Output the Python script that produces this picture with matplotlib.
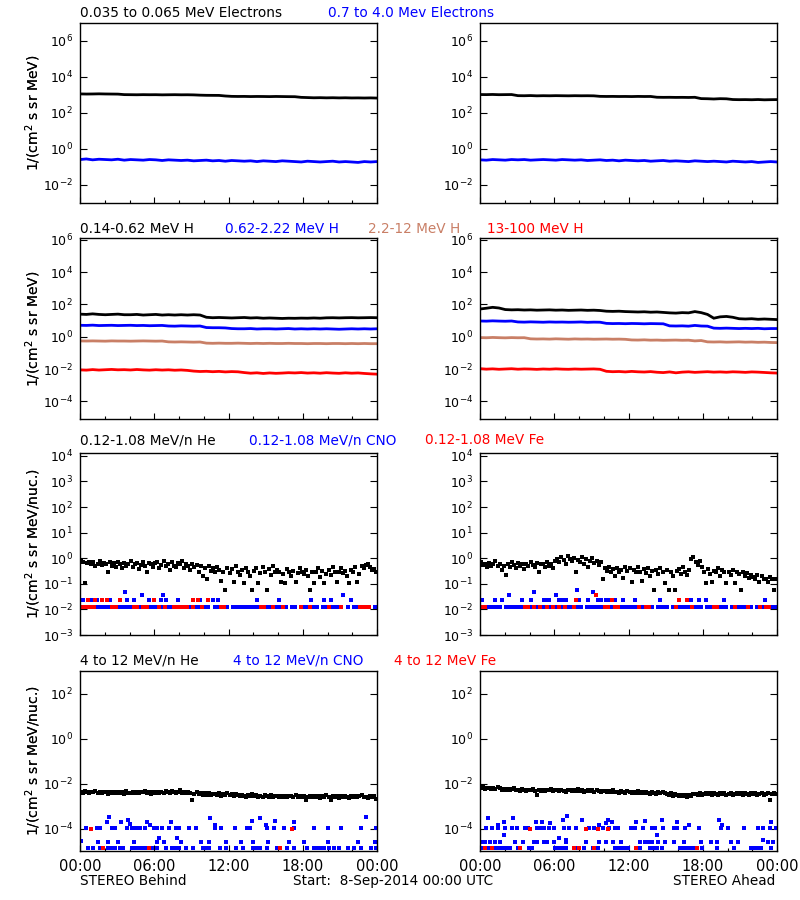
import numpy as np
import matplotlib
matplotlib.use('Agg')
import matplotlib.pyplot as plt
from matplotlib.ticker import FixedLocator, NullLocator

# ---------------- DATA (8-Sep-2014) ----------------
# Row 1: electrons, 30-min samples (48)
e_lo_B = [1150, 1130, 1140, 1160, 1140, 1130, 1120, 1050, 1040, 1030, 1045, 1035,
          1040, 1020, 1030, 1040, 1025, 1030, 1015, 980, 960, 955, 950, 880,
          840, 830, 835, 820, 830, 825, 815, 830, 820, 810, 805, 740,
          720, 700, 710, 695, 705, 690, 700, 685, 690, 680, 690, 675]
e_hi_B = [0.26, 0.28, 0.25, 0.27, 0.26, 0.25, 0.27, 0.24, 0.26, 0.25, 0.24, 0.26,
          0.25, 0.23, 0.25, 0.24, 0.23, 0.24, 0.22, 0.23, 0.24, 0.22, 0.23, 0.21,
          0.23, 0.22, 0.21, 0.22, 0.20, 0.22, 0.21, 0.20, 0.22, 0.21, 0.20, 0.19,
          0.21, 0.20, 0.19, 0.20, 0.21, 0.19, 0.20, 0.19, 0.18, 0.20, 0.19, 0.20]
e_lo_A = [1060, 1050, 1070, 1040, 1050, 1060, 920, 910, 930, 900, 915, 905,
          920, 910, 900, 915, 905, 910, 900, 840, 830, 835, 825, 830,
          820, 835, 825, 830, 750, 740, 745, 735, 740, 730, 745, 630,
          620, 600, 625, 615, 560, 550, 555, 545, 560, 540, 550, 555]
e_hi_A = [0.25, 0.24, 0.26, 0.25, 0.24, 0.26, 0.25, 0.26, 0.24, 0.25, 0.26, 0.25,
          0.24, 0.26, 0.25, 0.24, 0.25, 0.23, 0.24, 0.25, 0.23, 0.24, 0.22, 0.24,
          0.23, 0.22, 0.23, 0.21, 0.22, 0.23, 0.21, 0.22, 0.21, 0.20, 0.22, 0.21,
          0.20, 0.21, 0.20, 0.19, 0.21, 0.20, 0.19, 0.20, 0.18, 0.19, 0.20, 0.19]

# Row 2: protons, 30-min samples (48)
h1_B = [25, 24, 26, 24, 23, 24, 25, 23, 23, 24, 22, 23,
        24, 22, 23, 22, 23, 22, 23, 22, 16, 15, 15.5, 15,
        14.5, 15, 15.5, 14.5, 15, 14, 14.5, 14, 13.5, 14, 13.8, 14.2,
        14, 14.5, 14, 14.8, 15, 14.6, 15, 15.2, 14.8, 15, 15.3, 15]
h2_B = [5.1, 5.0, 5.2, 4.9, 5.0, 5.1, 4.9, 5.0, 5.1, 4.9, 5.0, 4.8,
        4.9, 5.0, 4.6, 4.5, 4.7, 4.6, 4.5, 4.6, 3.7, 3.6, 3.6, 3.5,
        3.2, 3.1, 3.1, 3.2, 3.0, 3.1, 3.1, 3.0, 3.1, 3.2, 3.0, 3.1,
        3.0, 3.1, 3.0, 3.1, 3.0, 2.9, 3.0, 3.1, 3.0, 3.1, 3.0, 3.1]
h3_B = [0.55, 0.54, 0.55, 0.54, 0.53, 0.55, 0.54, 0.54, 0.53, 0.54, 0.55, 0.54,
        0.53, 0.54, 0.48, 0.47, 0.48, 0.47, 0.46, 0.47, 0.40, 0.39, 0.40, 0.39,
        0.39, 0.40, 0.39, 0.38, 0.39, 0.38, 0.39, 0.38, 0.38, 0.39, 0.38, 0.38,
        0.37, 0.38, 0.38, 0.37, 0.38, 0.38, 0.37, 0.38, 0.37, 0.38, 0.37, 0.37]
h4_B = [0.0088, 0.0085, 0.0092, 0.0086, 0.0090, 0.0094, 0.0089, 0.0091, 0.0087, 0.0093, 0.0088, 0.0085,
        0.0090, 0.0086, 0.0089, 0.0084, 0.0087, 0.0082, 0.0074, 0.0070, 0.0072, 0.0068, 0.0071, 0.0066,
        0.0069, 0.0067, 0.0060, 0.0055, 0.0058, 0.0053, 0.0057, 0.0054, 0.0056, 0.0059, 0.0057, 0.0060,
        0.0056, 0.0058, 0.0055, 0.0059, 0.0056, 0.0054, 0.0058, 0.0055, 0.0057, 0.0053, 0.0050, 0.0048]
h1_A = [52, 58, 66, 60, 48, 46, 47, 45, 46, 44, 45, 46,
        44, 45, 43, 44, 45, 43, 44, 42, 38, 37, 38, 36,
        35, 34, 35, 33, 34, 32, 30, 29, 31, 30, 36, 31,
        24, 14, 17, 18, 16, 13, 12.5, 13, 12, 12.5, 12, 11.5]
h2_A = [9.4, 9.2, 9.6, 9.3, 9.1, 9.4, 8.2, 8.0, 8.3, 8.1, 7.9, 8.2,
        8.0, 8.1, 7.9, 8.0, 8.2, 7.8, 8.0, 7.9, 6.7, 6.5, 6.6, 6.4,
        6.6, 6.5, 6.3, 6.5, 6.4, 6.3, 4.7, 4.6, 4.7, 4.5, 5.0, 4.6,
        4.5, 3.4, 3.3, 3.4, 3.3, 3.2, 3.3, 3.2, 3.3, 3.1, 3.2, 3.2]
h3_A = [0.88, 0.86, 0.90, 0.87, 0.85, 0.88, 0.86, 0.87, 0.74, 0.72, 0.73, 0.71,
        0.74, 0.72, 0.70, 0.73, 0.71, 0.72, 0.70, 0.71, 0.72, 0.70, 0.71, 0.69,
        0.63, 0.62, 0.64, 0.61, 0.62, 0.60, 0.61, 0.62, 0.60, 0.61, 0.55, 0.58,
        0.48, 0.47, 0.48, 0.46, 0.47, 0.48, 0.46, 0.47, 0.45, 0.46, 0.44, 0.43]
h4_A = [0.0105, 0.0098, 0.0102, 0.0096, 0.0100, 0.0104, 0.0097, 0.0101, 0.0099, 0.0095, 0.0100, 0.0097,
        0.0102, 0.0098, 0.0096, 0.0100, 0.0097, 0.0099, 0.0101, 0.0096, 0.0072, 0.0068, 0.0070, 0.0066,
        0.0071, 0.0067, 0.0065, 0.0069, 0.0063, 0.0060, 0.0066, 0.0058, 0.0064, 0.0067, 0.0062, 0.0065,
        0.0068, 0.0064, 0.0066, 0.0063, 0.0067, 0.0065, 0.0062, 0.0066, 0.0064, 0.0061, 0.0058, 0.0056]

# Row 3: 0.12-1.08 MeV/n He, 10-min samples (144)
he3_B = [0.80, 0.72, 0.11, 0.65, 0.74, 0.58, 0.70, 0.48, 0.62, 0.75, 0.55, 0.66,
         0.60, 0.30, 0.72, 0.52, 0.64, 0.45, 0.70, 0.58, 0.41, 0.66, 0.50, 0.62,
         0.75, 0.47, 0.60, 0.68, 0.38, 0.55, 0.72, 0.50, 0.30, 0.64, 0.58, 0.45,
         0.66, 0.74, 0.41, 0.56, 0.80, 0.48, 0.62, 0.36, 0.70, 0.52, 0.45, 0.66,
         0.58, 0.75, 0.40, 0.60, 0.50, 0.35, 0.62, 0.45, 0.55, 0.30, 0.48, 0.20,
         0.40, 0.15, 0.50, 0.33, 0.42, 0.28, 0.45, 0.36, 0.13, 0.30, 0.055, 0.40,
         0.26, 0.38, 0.12, 0.48, 0.30, 0.22, 0.35, 0.11, 0.42, 0.28, 0.20, 0.055,
         0.33, 0.40, 0.11, 0.26, 0.45, 0.30, 0.055, 0.38, 0.22, 0.50, 0.28, 0.35,
         0.30, 0.12, 0.25, 0.11, 0.38, 0.28, 0.20, 0.33, 0.12, 0.26, 0.40, 0.30,
         0.25, 0.35, 0.20, 0.055, 0.30, 0.11, 0.28, 0.40, 0.18, 0.33, 0.11, 0.25,
         0.35, 0.22, 0.45, 0.28, 0.12, 0.30, 0.40, 0.26, 0.33, 0.20, 0.11, 0.36,
         0.30, 0.45, 0.12, 0.25, 0.50, 0.40, 0.55, 0.60, 0.45, 0.35, 0.38, 0.28]
he3_A = [0.70, 0.55, 0.62, 0.45, 0.68, 0.50, 0.60, 0.75, 0.48, 0.58, 0.36, 0.52,
         0.23, 0.62, 0.45, 0.70, 0.55, 0.40, 0.66, 0.48, 0.58, 0.38, 0.62, 0.50,
         0.72, 0.55, 0.44, 0.66, 0.30, 0.58, 0.62, 0.46, 0.70, 0.52, 0.60, 0.40,
         0.80, 0.95, 0.70, 1.10, 0.85, 0.62, 1.20, 0.90, 0.75, 1.00, 0.30, 0.85,
         0.70, 1.10, 0.60, 0.90, 0.45, 0.75, 1.00, 0.65, 0.80, 0.55, 0.70, 0.15,
         0.40, 0.32, 0.45, 0.28, 0.38, 0.20, 0.42, 0.30, 0.36, 0.17, 0.44, 0.33,
         0.40, 0.12, 0.35, 0.28, 0.45, 0.30, 0.13, 0.38, 0.26, 0.42, 0.20, 0.33,
         0.055, 0.36, 0.25, 0.40, 0.30, 0.11, 0.35, 0.055, 0.28, 0.20, 0.055, 0.33,
         0.38, 0.25, 0.45, 0.30, 0.22, 0.34, 0.90, 1.10, 0.70, 0.55, 0.80, 0.45,
         0.30, 0.11, 0.38, 0.25, 0.12, 0.33, 0.28, 0.40, 0.20, 0.35, 0.30, 0.11,
         0.30, 0.22, 0.36, 0.11, 0.28, 0.25, 0.055, 0.30, 0.20, 0.26, 0.17, 0.22,
         0.18, 0.15, 0.22, 0.12, 0.20, 0.16, 0.16, 0.12, 0.18, 0.15, 0.055, 0.16]

# Row 3 CNO / Fe one-count floor, 15-min bins (96); 0 = no point
cno3_B_floor = [0.012, 0.012, 0.012, 0.012, 0.012, 0.012, 0.012, 0.012, 0.012, 0.012, 0.012, 0.012,
                0.012, 0.012, 0.012, 0.012, 0.012, 0.012, 0.012, 0.012, 0.012, 0.012, 0.012, 0.012,
                0.012, 0.012, 0.012, 0.012, 0.012, 0.012, 0.012, 0.012, 0.012, 0.012, 0.012, 0.012,
                0.012, 0.012, 0.012, 0.012, 0.012, 0.012, 0, 0.012, 0.012, 0.012, 0.012, 0.012,
                0, 0.012, 0.012, 0.012, 0.012, 0.012, 0.012, 0.012, 0.012, 0.012, 0.012, 0.012,
                0.012, 0.012, 0.012, 0.012, 0.012, 0.012, 0.012, 0, 0.012, 0.012, 0, 0.012,
                0.012, 0.012, 0.012, 0.012, 0.012, 0, 0.012, 0.012, 0.012, 0.012, 0.012, 0.012,
                0.012, 0, 0.012, 0, 0.012, 0.012, 0.012, 0.012, 0.012, 0.012, 0, 0.012]
fe3_B_floor = [0.012, 0.012, 0.012, 0.012, 0.012, 0, 0, 0, 0, 0, 0.012, 0.012,
               0, 0, 0, 0, 0, 0.012, 0.012, 0, 0.012, 0.012, 0, 0,
               0, 0.012, 0, 0.012, 0, 0, 0.012, 0.012, 0.012, 0.012, 0.012, 0,
               0.012, 0, 0, 0.012, 0, 0, 0, 0, 0, 0.012, 0.012, 0,
               0, 0, 0, 0, 0, 0, 0, 0, 0, 0, 0.012, 0.012,
               0, 0, 0.012, 0, 0, 0.012, 0, 0, 0, 0, 0, 0.012,
               0, 0, 0.012, 0, 0, 0, 0, 0, 0.012, 0, 0, 0,
               0.012, 0, 0, 0, 0, 0, 0.012, 0.012, 0.012, 0.012, 0, 0]
cno3_A_floor = [0.012, 0.012, 0.012, 0.012, 0.012, 0.012, 0.012, 0, 0.012, 0.012, 0.012, 0.012,
                0.012, 0.012, 0.012, 0.012, 0.012, 0.012, 0.012, 0.012, 0.012, 0.012, 0.012, 0.012,
                0.012, 0.012, 0.012, 0.012, 0.012, 0.012, 0.012, 0.012, 0.012, 0, 0.012, 0.012,
                0.012, 0.012, 0.012, 0.012, 0.012, 0.012, 0.012, 0.012, 0.012, 0.012, 0.012, 0.012,
                0.012, 0.012, 0.012, 0.012, 0.012, 0.012, 0.012, 0.012, 0, 0.012, 0.012, 0.012,
                0.012, 0, 0.012, 0.012, 0.012, 0.012, 0.012, 0.012, 0.012, 0.012, 0.012, 0.012,
                0, 0.012, 0.012, 0.012, 0.012, 0.012, 0.012, 0.012, 0, 0.012, 0.012, 0.012,
                0.012, 0.012, 0.012, 0.012, 0, 0.012, 0.012, 0.012, 0.012, 0.012, 0.012, 0.012]
fe3_A_floor = [0.012, 0.012, 0, 0, 0, 0, 0, 0, 0, 0, 0, 0,
               0, 0, 0.012, 0.012, 0, 0.012, 0, 0.012, 0, 0.012, 0, 0.012,
               0, 0.012, 0, 0.012, 0, 0, 0.012, 0, 0, 0, 0, 0,
               0, 0, 0, 0, 0.012, 0.012, 0, 0.012, 0.012, 0, 0, 0,
               0, 0, 0, 0.012, 0, 0.012, 0.012, 0, 0, 0, 0, 0,
               0, 0, 0, 0.012, 0, 0, 0, 0, 0.012, 0, 0, 0,
               0, 0, 0, 0.012, 0.012, 0, 0, 0, 0, 0, 0.012, 0,
               0, 0, 0.012, 0, 0, 0, 0.012, 0, 0.012, 0.012, 0, 0]

# Row 3 CNO / Fe points above the floor: (hour, value)
cno3_B_up = [(0.27, 0.024), (0.95, 0.024), (1.36, 0.024), (2.45, 0.024), (3.27, 0.024),
             (3.62, 0.05), (3.81, 0.024), (4.36, 0.024), (4.99, 0.035), (5.59, 0.024),
             (6.54, 0.024), (6.68, 0.035), (6.95, 0.024), (7.90, 0.024), (9.67, 0.024),
             (10.35, 0.024), (10.76, 0.024), (11.17, 0.024), (14.30, 0.024), (16.08, 0.024),
             (18.66, 0.024), (19.75, 0.024), (20.30, 0.024), (21.25, 0.035), (21.93, 0.024)]
fe3_B_up = [(0.68, 0.024), (1.23, 0.024), (1.77, 0.024), (2.18, 0.024), (3.27, 0.024),
            (5.99, 0.024), (9.13, 0.024), (9.54, 0.024), (10.35, 0.024)]
cno3_A_up = [(0.14, 0.024), (1.23, 0.024), (1.77, 0.024), (2.32, 0.035), (3.41, 0.024),
             (4.09, 0.024), (4.36, 0.05), (5.18, 0.024), (5.45, 0.024), (5.59, 0.024),
             (6.13, 0.035), (6.40, 0.024), (6.68, 0.024), (6.95, 0.024), (7.85, 0.06),
             (8.04, 0.024), (8.72, 0.024), (9.13, 0.05), (9.54, 0.024), (9.81, 0.024),
             (10.22, 0.024), (10.49, 0.024), (10.90, 0.024), (11.58, 0.024), (12.53, 0.024),
             (14.58, 0.024), (16.76, 0.024), (17.03, 0.024), (17.71, 0.024), (18.26, 0.024),
             (19.75, 0.024), (23.02, 0.024)]
fe3_A_up = [(7.77, 0.024), (9.40, 0.035), (10.63, 0.024), (16.08, 0.024), (16.76, 0.024)]

# Row 4: 4-12 MeV/n He, 10-min samples (144)
he4_B = [.0042, .0038, .0045, .0040, .0036, .0044, .0040, .0046, .0037, .0042, .0039, .0043,
         .0041, .0035, .0044, .0039, .0042, .0037, .0043, .0038, .0040, .0035, .0045, .0039,
         .0036, .0042, .0039, .0044, .0037, .0041, .0040, .0046, .0038, .0042, .0035, .0043,
         .0039, .0044, .0036, .0041, .0038, .0045, .0042, .0037, .0047, .0040, .0036, .0043,
         .0050, .0039, .0044, .0036, .0041, .0038, .0018, .0035, .0040, .0033, .0038, .0031,
         .0036, .0032, .0039, .0030, .0035, .0033, .0031, .0037, .0029, .0034, .0032, .0036,
         .0030, .0034, .0028, .0033, .0031, .0027, .0032, .0029, .0026, .0031, .0028, .0033,
         .0027, .0030, .0025, .0029, .0026, .0031, .0028, .0025, .0030, .0026, .0029, .0027,
         .0026, .0029, .0024, .0028, .0025, .0027, .0028, .0026, .0030, .0024, .0027, .0025,
         .0029, .0018, .0026, .0028, .0024, .0027, .0025, .0029, .0023, .0027, .0026, .0030,
         .0024, .0018, .0027, .0025, .0028, .0023, .0027, .0024, .0029, .0026, .0023, .0028,
         .0025, .0028, .0024, .0027, .0030, .0025, .0026, .0023, .0028, .0025, .0027, .0020]
he4_A = [.0062, .0070, .0058, .0065, .0060, .0055, .0063, .0057, .0068, .0060, .0054, .0059,
         .0052, .0058, .0049, .0055, .0060, .0050, .0054, .0048, .0056, .0051, .0046, .0053,
         .0050, .0055, .0047, .0030, .0052, .0048, .0051, .0045, .0053, .0049, .0056, .0047,
         .0050, .0054, .0046, .0052, .0048, .0044, .0049, .0053, .0045, .0051, .0047, .0055,
         .0046, .0050, .0043, .0048, .0052, .0045, .0049, .0044, .0051, .0047, .0042, .0048,
         .0045, .0041, .0047, .0043, .0049, .0040, .0044, .0039, .0046, .0042, .0038, .0045,
         .0041, .0037, .0043, .0039, .0045, .0038, .0040, .0036, .0042, .0038, .0035, .0041,
         .0039, .0035, .0041, .0037, .0043, .0036, .0034, .0030, .0036, .0029, .0033, .0031,
         .0028, .0032, .0027, .0030, .0026, .0031, .0029, .0033, .0035, .0031, .0036, .0032,
         .0034, .0038, .0033, .0036, .0031, .0037, .0035, .0031, .0038, .0033, .0036, .0030,
         .0034, .0037, .0032, .0035, .0039, .0033, .0036, .0032, .0038, .0034, .0031, .0037,
         .0033, .0036, .0031, .0035, .0038, .0032, .0034, .0037, .0018, .0033, .0036, .0035]

# Row 4 CNO / Fe points: (hour, value)
cno4_B = [(0.52, 1.1e-4), (1.34, 1.1e-4), (1.61, 1.1e-4), (2.15, 2.0e-4), (2.34, 3.3e-4),
          (2.56, 1.1e-4), (2.83, 1.1e-4), (3.32, 2.0e-4), (3.79, 1.1e-4), (3.87, 2.3e-4),
          (4.06, 1.6e-4), (4.20, 1.1e-4), (4.52, 1.1e-4), (4.88, 1.1e-4), (5.29, 1.1e-4),
          (5.42, 2.0e-4), (5.64, 1.5e-4), (5.97, 1.1e-4), (6.24, 1.1e-4), (6.65, 1.1e-4),
          (7.19, 1.1e-4), (7.33, 2.0e-4), (7.74, 1.1e-4), (8.01, 1.1e-4), (8.83, 1.1e-4),
          (9.37, 1.1e-4), (10.52, 3.0e-4), (10.87, 1.1e-4), (10.93, 1.5e-4), (11.42, 1.1e-4),
          (12.51, 1.1e-4), (13.46, 1.1e-4), (13.73, 1.1e-4), (13.87, 2.2e-4), (14.55, 3.0e-4),
          (15.04, 1.5e-4), (15.10, 1.1e-4), (15.64, 1.1e-4), (15.78, 2.2e-4), (16.46, 1.1e-4),
          (17.28, 1.1e-4), (17.33, 2.0e-4), (18.91, 1.1e-4), (20.00, 1.1e-4), (21.09, 1.1e-4),
          (22.72, 1.1e-4), (23.08, 3.3e-4), (23.95, 1.1e-4),
          (0.05, 2.8e-5), (1.47, 2.6e-5), (2.23, 2.6e-5), (3.11, 2.6e-5), (4.33, 2.6e-5),
          (6.24, 2.6e-5), (6.38, 3.9e-5), (6.78, 2.6e-5), (7.87, 3.9e-5), (8.15, 2.6e-5),
          (9.78, 2.6e-5), (10.46, 2.6e-5), (11.83, 2.6e-5), (13.05, 2.6e-5), (14.00, 2.6e-5),
          (15.23, 2.6e-5), (16.87, 2.6e-5), (18.09, 2.6e-5), (20.00, 2.6e-5), (22.45, 2.6e-5),
          (23.81, 2.6e-5),
          (0.65, 1.3e-5), (1.06, 1.3e-5), (1.61, 1.3e-5), (2.29, 1.3e-5), (2.56, 1.3e-5),
          (2.83, 1.3e-5), (3.24, 1.3e-5), (3.51, 1.3e-5), (4.20, 1.3e-5), (4.47, 1.3e-5),
          (4.74, 1.3e-5), (5.01, 1.3e-5), (5.29, 1.3e-5), (5.83, 1.3e-5), (6.24, 1.3e-5),
          (6.92, 1.3e-5), (7.47, 1.3e-5), (7.74, 1.3e-5), (8.01, 1.3e-5), (8.56, 1.3e-5),
          (9.10, 1.3e-5), (9.92, 1.3e-5), (10.19, 1.3e-5), (10.46, 1.3e-5), (11.28, 1.3e-5),
          (11.83, 1.3e-5), (12.64, 1.3e-5), (13.19, 1.3e-5), (14.00, 1.3e-5), (14.28, 1.3e-5),
          (14.55, 1.3e-5), (15.10, 1.3e-5), (15.91, 1.3e-5), (16.73, 1.3e-5), (17.28, 1.3e-5),
          (18.37, 1.3e-5), (18.91, 1.3e-5), (19.18, 1.3e-5), (19.46, 1.3e-5), (19.73, 1.3e-5),
          (20.14, 1.3e-5), (20.54, 1.3e-5), (20.95, 1.3e-5), (21.63, 1.3e-5), (22.18, 1.3e-5),
          (22.72, 1.3e-5), (23.54, 1.3e-5), (23.95, 1.3e-5)]
fe4_B = [(0.87, 1.0e-4), (17.14, 1.0e-4), (1.88, 1.3e-5), (5.56, 1.3e-5), (16.19, 1.3e-5)]
cno4_A = [(0.52, 1.1e-4), (0.93, 1.1e-4), (1.47, 1.1e-4), (2.02, 1.1e-4), (2.56, 1.1e-4),
          (2.97, 1.1e-4), (3.65, 1.1e-4), (3.87, 1.1e-4), (4.60, 1.1e-4), (4.88, 1.1e-4),
          (5.15, 1.1e-4), (5.56, 1.1e-4), (5.97, 1.1e-4), (6.78, 1.1e-4), (7.19, 1.1e-4),
          (7.74, 1.1e-4), (8.83, 1.1e-4), (9.24, 1.1e-4), (9.92, 1.1e-4), (10.46, 1.1e-4),
          (10.87, 1.1e-4), (11.14, 1.1e-4), (12.23, 1.1e-4), (12.51, 1.1e-4), (13.19, 1.1e-4),
          (13.87, 1.1e-4), (14.14, 1.1e-4), (14.82, 1.1e-4), (15.64, 1.1e-4), (15.91, 1.1e-4),
          (16.59, 1.1e-4), (17.68, 1.1e-4), (19.46, 1.1e-4), (20.00, 1.1e-4), (21.36, 1.1e-4),
          (22.45, 1.1e-4), (22.86, 1.1e-4), (23.41, 1.1e-4), (23.95, 1.1e-4),
          (0.65, 3.0e-4), (1.42, 1.5e-4), (1.96, 2.0e-4), (2.70, 3.0e-4), (4.52, 2.0e-4),
          (5.01, 2.0e-4), (5.64, 1.8e-4), (6.73, 2.3e-4), (7.06, 3.5e-4), (8.28, 2.5e-4),
          (9.65, 1.5e-4), (10.19, 1.8e-4), (10.33, 2.3e-4), (10.68, 2.0e-4), (12.64, 2.0e-4),
          (13.32, 2.2e-4), (14.69, 2.3e-4), (15.91, 2.0e-4), (16.87, 1.5e-4), (19.32, 2.3e-4),
          (19.59, 1.5e-4), (23.54, 2.0e-4),
          (1.96, 5.4e-5), (6.38, 3.9e-5), (6.98, 3.0e-5), (14.28, 5.4e-5), (22.86, 3.2e-5),
          (0.11, 2.4e-5),
          (0.25, 2.6e-5), (0.38, 2.6e-5), (0.79, 2.6e-5), (1.20, 2.6e-5), (1.61, 2.6e-5),
          (2.83, 2.6e-5), (3.51, 2.6e-5), (4.33, 2.6e-5), (4.60, 2.6e-5), (5.15, 2.6e-5),
          (5.42, 2.6e-5), (5.97, 2.6e-5), (6.92, 2.6e-5), (8.56, 2.6e-5), (9.65, 2.6e-5),
          (10.19, 2.6e-5), (10.74, 2.6e-5), (11.42, 2.6e-5), (12.92, 2.6e-5), (13.32, 2.6e-5),
          (13.60, 2.6e-5), (13.87, 2.6e-5), (14.41, 2.6e-5), (14.96, 2.6e-5), (15.64, 2.6e-5),
          (16.46, 2.6e-5), (17.82, 2.6e-5), (18.64, 2.6e-5), (19.18, 2.6e-5), (20.27, 2.6e-5),
          (20.82, 2.6e-5), (23.27, 2.6e-5), (23.68, 2.6e-5),
          (0.25, 1.3e-5), (0.52, 1.3e-5), (0.79, 1.3e-5), (1.06, 1.3e-5), (1.34, 1.3e-5),
          (1.61, 1.3e-5), (1.88, 1.3e-5), (2.15, 1.3e-5), (2.43, 1.3e-5), (3.11, 1.3e-5),
          (3.92, 1.3e-5), (4.20, 1.3e-5), (6.10, 1.3e-5), (6.38, 1.3e-5), (6.65, 1.3e-5),
          (6.92, 1.3e-5), (7.74, 1.3e-5), (8.42, 1.3e-5), (9.10, 1.3e-5), (9.51, 1.3e-5),
          (10.87, 1.3e-5), (11.14, 1.3e-5), (11.42, 1.3e-5), (11.69, 1.3e-5), (11.96, 1.3e-5),
          (12.92, 1.3e-5), (13.73, 1.3e-5), (14.00, 1.3e-5), (14.28, 1.3e-5), (14.69, 1.3e-5),
          (16.19, 1.3e-5), (16.46, 1.3e-5), (16.73, 1.3e-5), (17.00, 1.3e-5), (17.28, 1.3e-5),
          (17.96, 1.3e-5), (19.18, 1.3e-5), (20.54, 1.3e-5), (21.91, 1.3e-5), (22.18, 1.3e-5),
          (22.45, 1.3e-5), (22.72, 1.3e-5), (23.54, 1.3e-5)]
fe4_A = [(4.06, 1.0e-4), (8.56, 1.0e-4), (9.51, 1.0e-4), (10.33, 1.0e-4),
         (0.38, 1.3e-5), (0.93, 1.3e-5), (3.24, 1.3e-5), (7.60, 1.3e-5), (8.01, 1.3e-5),
         (9.24, 1.3e-5), (12.64, 1.3e-5), (17.55, 1.3e-5)]

x_tick_labels = ['00:00', '06:00', '12:00', '18:00', '00:00']

titles = [
    [('0.035 to 0.065 MeV Electrons', 'black', 80), ('0.7 to 4.0 Mev Electrons', 'blue', 328)],
    [('0.14-0.62 MeV H', 'black', 80), ('0.62-2.22 MeV H', 'blue', 225),
     ('2.2-12 MeV H', 'brown', 368), ('13-100 MeV H', 'red', 487)],
    [('0.12-1.08 MeV/n He', 'black', 80), ('0.12-1.08 MeV/n CNO', 'blue', 249),
     ('0.12-1.08 MeV Fe', 'red', 425)],
    [('4 to 12 MeV/n He', 'black', 80), ('4 to 12 MeV/n CNO', 'blue', 233),
     ('4 to 12 MeV Fe', 'red', 394)],
]

# ---------------- STYLE / LAYOUT ----------------
COL = {'black': 'black', 'blue': '#0000ff', 'red': '#ff0000', 'brown': '#c97f66'}
W, H = 800, 900
plt.rcParams['font.family'] = 'DejaVu Sans'
plt.rcParams['mathtext.fontset'] = 'dejavusans'

fig = plt.figure(figsize=(8, 9), dpi=100)
fig.patch.set_facecolor('white')

col_x = [80, 480]
pw = 297
rows = [(23, 203), (238, 419), (453, 635), (671, 851)]
ylims = [(1e-3, 1e7), (8e-6, 1.3e6), (1e-3, 1.3e4), (1e-5, 1e3)]
yticks = [[1e-2, 1e0, 1e2, 1e4, 1e6],
          [1e-4, 1e-2, 1e0, 1e2, 1e4, 1e6],
          [1e-3, 1e-2, 1e-1, 1e0, 1e1, 1e2, 1e3, 1e4],
          [1e-4, 1e-2, 1e0, 1e2]]
ylabels = ['1/(cm$^2$ s sr MeV)', '1/(cm$^2$ s sr MeV)',
           '1/(cm$^2$ s sr MeV/nuc.)', '1/(cm$^2$ s sr MeV/nuc.)']


def make_ax(r, c):
    top, bot = rows[r]
    ax = fig.add_axes([col_x[c] / W, 1 - bot / H, pw / W, (bot - top) / H])
    ax.set_xlim(0, 24)
    ax.set_yscale('log')
    ax.set_ylim(*ylims[r])
    ax.yaxis.set_major_locator(FixedLocator(yticks[r]))
    ax.yaxis.set_minor_locator(NullLocator())
    ax.set_yticklabels([r'$10^{%d}$' % int(round(np.log10(v))) for v in yticks[r]])
    ax.xaxis.set_major_locator(FixedLocator([0, 6, 12, 18, 24]))
    ax.xaxis.set_minor_locator(FixedLocator([2, 4, 8, 10, 14, 16, 20, 22]))
    if r == 3:
        ax.set_xticklabels(x_tick_labels)
    else:
        ax.set_xticklabels([])
    ax.tick_params(axis='y', which='major', direction='in', length=5, width=0.8,
                   left=True, right=True, labelsize=9, pad=5)
    ax.tick_params(axis='x', which='major', direction='in', length=4.5, width=0.8,
                   top=False, bottom=True, labelsize=10.5, pad=6)
    ax.tick_params(axis='x', which='minor', direction='in', length=2.5, width=0.8,
                   top=False, bottom=True)
    for s in ax.spines.values():
        s.set_linewidth(1.0)
    fig.text(33 / W, 1 - (top + bot) / 2 / H, ylabels[r], rotation=90,
             ha='center', va='center', fontsize=10)
    return ax


def line(ax, vals, color):
    t = np.linspace(0, 24, len(vals))
    ax.plot(t, vals, color=COL[color], lw=2.0, solid_joinstyle='miter')


def dots_binned(ax, vals, color, ms=2.2):
    v = np.asarray(vals, dtype=float)
    t = (np.arange(len(v)) + 0.5) * 24.0 / len(v)
    v = np.where(v > 0, v, np.nan)
    ax.plot(t, v, 's', ms=ms, mew=0, color=COL[color])


def dots_pairs(ax, pairs, color, ms=2.2):
    arr = np.asarray(pairs, dtype=float)
    ax.plot(arr[:, 0], arr[:, 1], 's', ms=ms, mew=0, color=COL[color])


for c in range(2):
    side = 'B' if c == 0 else 'A'
    g = globals()
    ax = make_ax(0, c)
    line(ax, g['e_lo_' + side], 'black')
    line(ax, g['e_hi_' + side], 'blue')
    ax = make_ax(1, c)
    line(ax, g['h1_' + side], 'black')
    line(ax, g['h2_' + side], 'blue')
    line(ax, g['h3_' + side], 'brown')
    line(ax, g['h4_' + side], 'red')
    ax = make_ax(2, c)
    dots_binned(ax, g['he3_' + side], 'black')
    dots_binned(ax, g['cno3_%s_floor' % side], 'blue')
    dots_pairs(ax, g['cno3_%s_up' % side], 'blue')
    dots_binned(ax, g['fe3_%s_floor' % side], 'red')
    dots_pairs(ax, g['fe3_%s_up' % side], 'red')
    ax = make_ax(3, c)
    dots_binned(ax, g['he4_' + side], 'black', ms=2.4)
    dots_pairs(ax, g['cno4_' + side], 'blue')
    dots_pairs(ax, g['fe4_' + side], 'red')

title_y = [13, 229, 440, 661]
for r, items in enumerate(titles):
    for txt, color, x in items:
        fig.text(x / W, 1 - title_y[r] / H, txt, color=COL[color],
                 ha='left', va='center', fontsize=9.8)

fig.text(80 / W, 1 - 881 / H, 'STEREO Behind', ha='left', va='center', fontsize=9.8)
fig.text(293 / W, 1 - 881 / H, 'Start:  8-Sep-2014 00:00 UTC', ha='left', va='center', fontsize=9.8)
fig.text(775 / W, 1 - 881 / H, 'STEREO Ahead', ha='right', va='center', fontsize=9.8)

fig.savefig('out.png', dpi=100, facecolor='white')
